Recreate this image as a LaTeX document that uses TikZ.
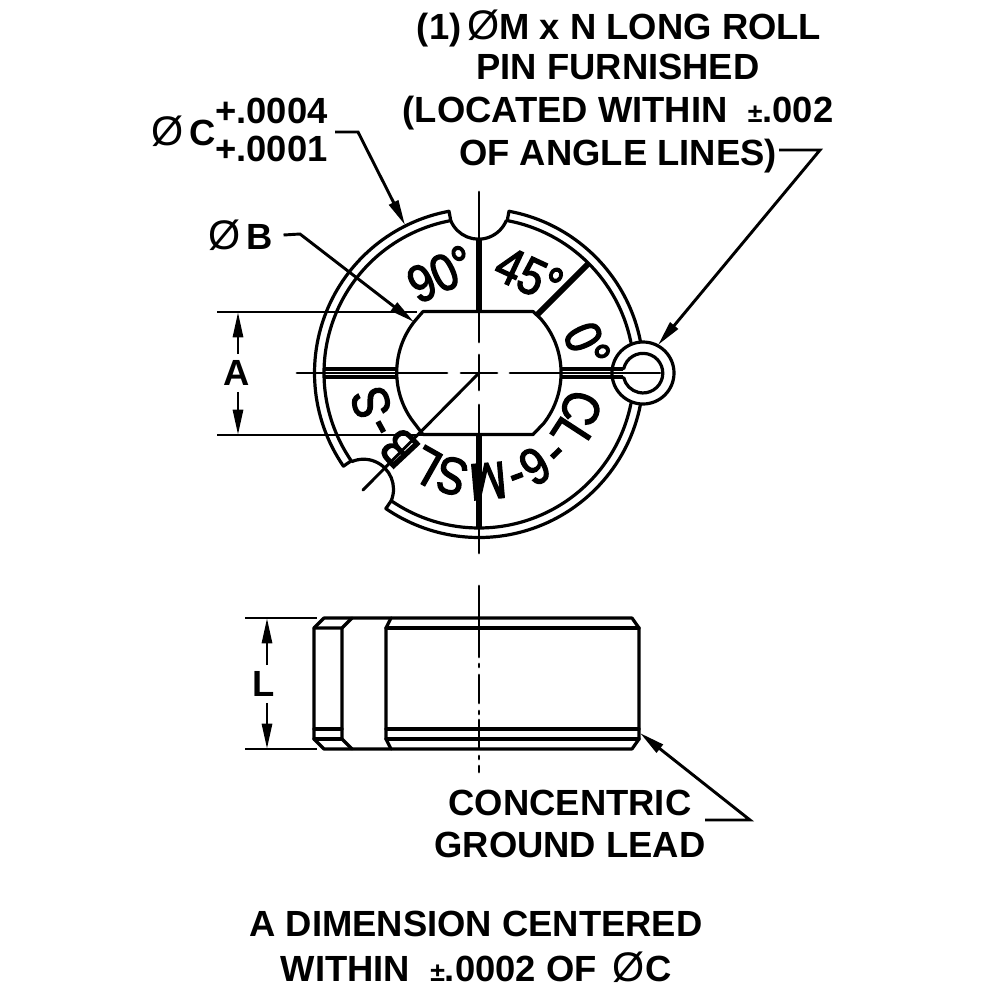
\documentclass[tikz,border=0pt]{standalone}
\usepackage{fontspec}
\usepackage{tikz}
\usetikzlibrary{arrows.meta}
\setmainfont{Liberation Sans}
\newfontfamily\engravefont[FakeStretch=0.85,FakeBold=2.5]{Liberation Sans}
\newcommand{\diasign}{{\mdseries\fontsize{31}{31}\selectfont\char"00D8}}
\newcommand{\plusminus}{{\fontsize{20}{20}\selectfont\char"00B1}}
\tikzset{
  partline/.style={line width=2.4pt,line cap=round,line join=round},
  heavyline/.style={line width=4.4pt},
  centreline/.style={line width=2.2pt,line cap=round},
  dimline/.style={line width=2.2pt},
  dimtip/.style={dimline,-{Triangle[length=19pt,width=7.5pt]}},
  leaderline/.style={line width=2.2pt,-{Triangle[length=19pt,width=7.5pt]}},
  labeltext/.style={inner sep=0pt,font=\bfseries\fontsize{27.3}{30}\selectfont},
  engraved/.style={inner sep=0pt,font=\engravefont\fontsize{39}{40}\selectfont}
}
\begin{document}
\begin{tikzpicture}[x=0.75pt,y=0.75pt,yscale=-1,xscale=1]
\useasboundingbox (0,0) rectangle (990,990);

%End view
\begin{scope}[shift={(479,373)}]
%Ring, three pieces
\draw [partline] (11:164.5) arc [start angle=11,end angle=124.5,radius=164.5] -- (124.5:155) arc [start angle=124.5,end angle=11.5,radius=155];
\draw [partline] (145.5:155) -- (145.5:164.5) arc [start angle=145.5,end angle=259.5,radius=164.5] -- (259.5:155) arc [start angle=259.5,end angle=145.5,radius=155];
\draw [partline] (280.5:155) -- (280.5:164.5) arc [start angle=280.5,end angle=349,radius=164.5];
\draw [partline] (280.5:155) arc [start angle=280.5,end angle=348.5,radius=155];
%Notches
\draw [partline] (259.5:155) arc [start angle=157.6,end angle=22.4,radius=30];
\draw [partline] (124.5:155) arc [start angle=22.6,end angle=-112.6,radius=30];
%Bore with flats
\draw [partline] (-56,-61.5) -- (54,-61.5) -- (61,-55) arc [start angle=-42,end angle=38,radius=82] -- (54,61.5) -- (-56,61.5) -- (-64,51) arc [start angle=141,end angle=219,radius=82] -- cycle;
%Slots
\draw [partline,line cap=butt] (-82,-4) -- (-155,-4) (-82,4) -- (-155,4);
\draw [partline,line cap=butt] (81,-4) -- (144,-4) (81,4) -- (144,4);
%Angle lines
\draw [heavyline] (0,-134) -- (0,-61.5);
\draw [heavyline] (0,61.5) -- (0,154);
\draw [heavyline] (-45:82) -- (-45:155);
%Roll pin
\draw [partline] (164,0) circle [radius=31];
\draw [partline] (144.7,-4.3) arc [start angle=-167,end angle=167,radius=19.8];
\end{scope}

%Centre lines
\draw [centreline] (297,373) -- (447,373) (461,373) -- (497,373) (510,373) -- (660,373);
\draw [centreline] (479,192) -- (479,342) (479,355) -- (479,390) (479,405) -- (479,553);
\draw [centreline] (479,373) -- (363,490);
\draw [centreline] (479,586) -- (479,657) (479,664) -- (479,667) (479,675) -- (479,703) (479,711) -- (479,714) (479,720) -- (479,748) (479,756) -- (479,759) (479,766) -- (479,772);

%Side view
\draw [partline] (324,618) -- (632,618) -- (639,628) -- (639,739) -- (632,749) -- (324,749) -- (314,739) -- (314,628) -- cycle;
\draw [partline] (314,628) -- (342,628) -- (352,618);
\draw [partline] (314,729) -- (342,729);
\draw [partline] (314,739) -- (342,739);
\draw [partline] (342,628) -- (342,739) -- (352,749);
\draw [partline] (391,618) -- (386,628) -- (386,739) -- (391,749);
\draw [partline] (386,628) -- (639,628);
\draw [partline] (386,729) -- (639,729);
\draw [partline] (386,739) -- (639,739);

% Text Node
\node (lenlabel) [labeltext] at (264,684) {L};
\node (widthlabel) [labeltext] at (237,373) {A};
\node (pinnotea) [labeltext] at (619,28) {(1)\,\diasign M x N LONG ROLL};
\node (pinnoteb) [labeltext] at (618,67) {PIN FURNISHED};
\node (pinnotec) [labeltext] at (618,113) {(LOCATED WITHIN \ \plusminus.002};
\node (pinnoted) [labeltext] at (618,156) {OF ANGLE LINES)};
\node (dialabelc) [labeltext] at (184,131) {\diasign\,C};
\node (tolupper) [labeltext,anchor=west] at (215,111) {+.0004};
\node (tollower) [labeltext,anchor=west] at (215,149) {+.0001};
\node (dialabelb) [labeltext] at (241,235) {\diasign\,B};
\node (leadnotea) [labeltext] at (570,803) {CONCENTRIC};
\node (leadnoteb) [labeltext] at (570,845) {GROUND LEAD};
\node (footnotea) [labeltext] at (476,924) {A DIMENSION CENTERED};
\node (footnoteb) [labeltext] at (476,967) {WITHIN \ \plusminus.0002 OF \,\diasign C};

% Engraved marks
\node (mark90) [engraved,rotate=25] at (441,274) {90°};
\node (mark45) [engraved,rotate=-25] at (529,275) {45°};
\node (mark0) [engraved,rotate=-65] at (587,345) {0°};
\node (letc) [engraved,rotate=-108.6] at (581,408) {C};
\node (letl) [engraved,rotate=-123] at (571,434) {L};
\node (dasha) [engraved,rotate=-136] at (552,449) {-};
\node (letsix) [engraved,rotate=-148.7] at (535,466) {6};
\node (dashb) [engraved,rotate=-159.6] at (515,471) {-};
\node (letm) [engraved,rotate=-175] at (488,481) {M};
\node (lets) [engraved,rotate=-194.8] at (452,476) {S};
\node (letlb) [engraved,rotate=-209.5] at (426,466) {L};
\node (letb) [engraved,rotate=-226.9] at (399,448) {B};
\node (dashc) [engraved,rotate=-241.5] at (386,424) {-};
\node (letsb) [engraved,rotate=-254.8] at (371,403) {S};

% Dimension lines
\draw [dimline] (217,312) -- (417,312);
\draw [dimline] (217,435) -- (533,435);
\draw [dimline] (245,618) -- (317,618);
\draw [dimline] (245,749) -- (317,749);
\draw [dimtip] (widthlabel.north) ++(1,-6) coordinate (widthtop) -- (238,312);
\draw [dimtip] (widthlabel.south) ++(1,6) coordinate (widthbot) -- (238,435);
\draw [dimtip] (lenlabel.north) ++(3,-6) coordinate (lentop) -- (267,618);
\draw [dimtip] (lenlabel.south) ++(3,6) coordinate (lenbot) -- (267,749);

% Leaders
\coordinate (ringtip) at (405,225);
\coordinate (boretip) at (414,322);
\coordinate (pintip) at (658,345);
\coordinate (leadtip) at (640,733);
\draw [leaderline] (335,132) -- (358,132) -- (ringtip);
\draw [leaderline] (dialabelb.east) ++(10,0) -- (300,234) -- (boretip);
\draw [leaderline] (pinnoted.east) ++(2,-6) -- (820,150) -- (pintip);
\draw [leaderline] (705,820) -- (750,820) -- (leadtip);
\end{tikzpicture}
\end{document}
